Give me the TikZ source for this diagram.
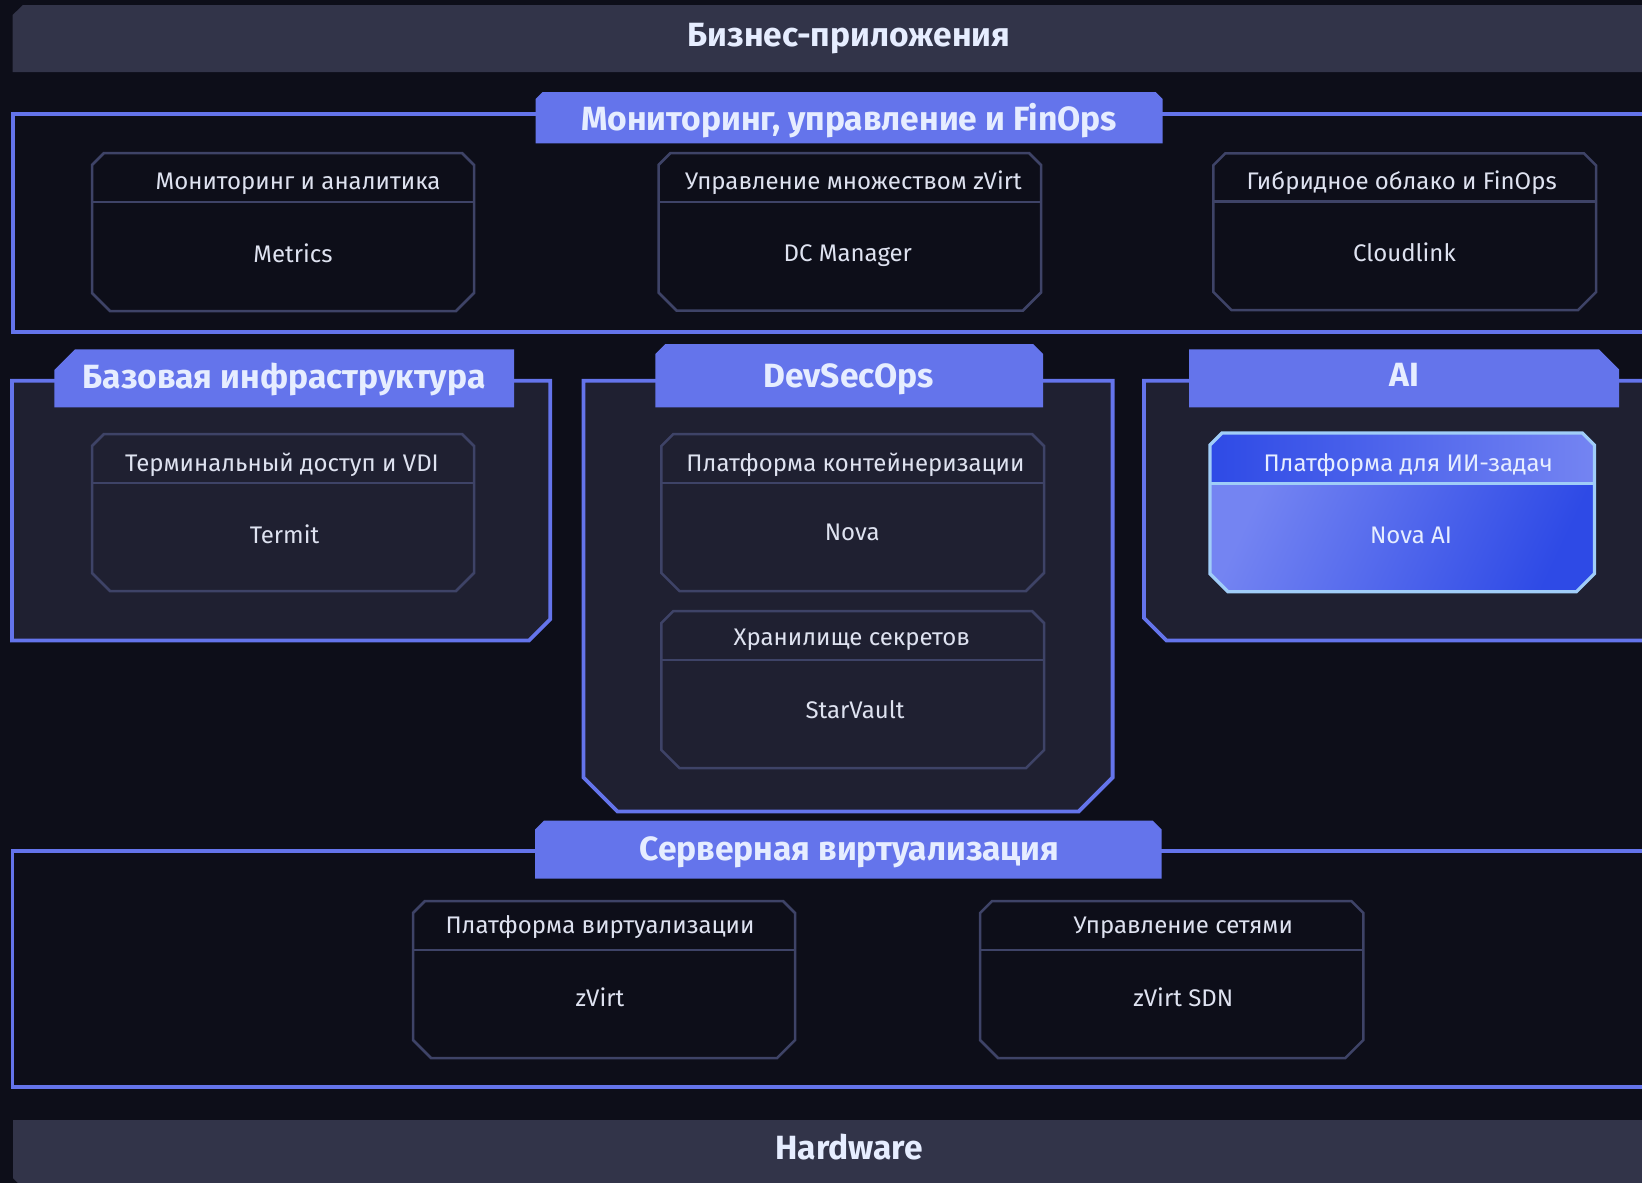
\documentclass[tikz,border=0pt]{standalone}
\usepackage{fontspec}
\setmainfont{Fira Sans}
\definecolor{bgc}{RGB}{13,14,25}
\definecolor{panelc}{RGB}{31,32,49}
\definecolor{barc}{RGB}{50,52,73}
\definecolor{accentc}{RGB}{100,116,235}
\definecolor{boxlinec}{RGB}{62,67,103}
\definecolor{txtc}{RGB}{222,226,240}
\definecolor{ttlc}{RGB}{230,237,255}
\definecolor{aiborderc}{RGB}{160,205,248}
\definecolor{aidarkc}{RGB}{46,74,230}
\definecolor{ailightc}{RGB}{116,132,242}
\tikzset{
  panelline/.style={draw=accentc, line width=3.8pt, line join=miter},
  tabfill/.style={fill=accentc},
  itemline/.style={draw=boxlinec, line width=2.5pt},
  hdr/.style={text=txtc, font=\fontsize{24}{28}\selectfont, inner sep=0pt, anchor=base},
  bodytxt/.style={hdr},
  ttl/.style={text=ttlc, font=\bfseries\fontsize{33.6}{38}\selectfont, inner sep=0pt, anchor=base},
}
\newcommand\ibox[5]{%
  \draw[itemline] ({#1+12},#2) -- ({#3-12},#2) -- (#3,{#2+12}) -- (#3,{#4-18}) -- ({#3-18},#4) -- ({#1+18},#4) -- (#1,{#4-18}) -- (#1,{#2+12}) -- cycle;
  \draw[itemline] (#1,#5) -- (#3,#5);}
\begin{document}
\begin{tikzpicture}[x=1pt,y=-1pt]
\useasboundingbox (0,0) rectangle (1642,1183);
\clip (0,0) rectangle (1642,1183);
\fill[bgc] (0,0) rectangle (1642,1183);

% top bar
\fill[barc] (12.6,15) -- (23,5) -- (1660,5) -- (1660,72) -- (12.6,72) -- cycle;
\node[ttl] (biz) at (849,46) {Бизнес-приложения};

% monitoring panel
\draw[panelline] (1660,114.3) -- (13,114.3) -- (13,332) -- (1660,332);
\fill[tabfill] (535.7,143.3) -- (535.7,99) -- (542.7,92) -- (1155.5,92) -- (1162.5,99) -- (1162.5,143.3) -- cycle;
\node[ttl] (mon) at (849,130) {Мониторинг, управление и FinOps};

\ibox{92}{153}{474}{311}{202}
\node[hdr] (metricsh) at (298,189.3) {Мониторинг и аналитика};
\node[bodytxt] (metrics) at (293,262.7) {Metrics};
\ibox{658.5}{153}{1041}{310.5}{202}
\node[hdr] (dch) at (853.4,189.3) {Управление множеством zVirt};
\node[bodytxt] (dc) at (847.8,261.7) {DC Manager};
\ibox{1213.3}{153.3}{1596}{310}{201.7}
\node[hdr] (clh) at (1401.7,189.3) {Гибридное облако и FinOps};
\node[bodytxt] (cl) at (1404.5,261.7) {Cloudlink};

% base infra panel
\filldraw[panelline, fill=panelc] (12,380.8) -- (550.2,380.8) -- (550.2,619.3) -- (529,640.5) -- (12,640.5) -- cycle;
\fill[tabfill] (54.3,407.3) -- (54.3,370) -- (75,349.3) -- (514,349.3) -- (514,407.3) -- cycle;
\node[ttl] (base) at (284,388.3) {Базовая инфраструктура};
\ibox{92}{434}{474}{591}{483}
\node[hdr] (termh) at (282,471.7) {Терминальный доступ и VDI};
\node[bodytxt] (termit) at (284.5,543.3) {Termit};

% devsecops panel
\filldraw[panelline, fill=panelc] (583.5,380.8) -- (1112.6,380.8) -- (1112.6,777.5) -- (1078.6,811.5) -- (617.5,811.5) -- (583.5,777.5) -- cycle;
\fill[tabfill] (655.4,407.3) -- (655.4,354) -- (665.4,344) -- (1033,344) -- (1043,354) -- (1043,407.3) -- cycle;
\node[ttl] (dso) at (848.8,387.3) {DevSecOps};
\ibox{661.3}{434}{1044}{591}{483}
\node[hdr] (novah) at (855.5,471.7) {Платформа контейнеризации};
\node[bodytxt] (nova) at (852.2,540) {Nova};
\ibox{661.3}{611}{1044}{768}{660}
\node[hdr] (svh) at (851.8,645) {Хранилище секретов};
\node[bodytxt] (sv) at (855,718.3) {StarVault};

% AI panel
\filldraw[panelline, fill=panelc] (1660,380.8) -- (1144,380.8) -- (1144,618) -- (1166.5,640.5) -- (1660,640.5) -- cycle;
\fill[tabfill] (1189.2,407.3) -- (1189.2,349.3) -- (1599,349.3) -- (1619.2,369.5) -- (1619.2,407.3) -- cycle;
\node[ttl] (ai) at (1404.2,386.7) {AI};
\shade[left color=aidarkc, right color=ailightc] (1210,483.3) -- (1210,445) -- (1222,433) -- (1582.4,433) -- (1594.4,445) -- (1594.4,483.3) -- cycle;
\shade[left color=ailightc, right color=aidarkc, shading angle=65] (1210,483.3) -- (1594.4,483.3) -- (1594.4,573.7) -- (1576.4,591.7) -- (1228,591.7) -- (1210,573.7) -- cycle;
\draw[draw=aiborderc, line width=3.3pt] (1222,433) -- (1582.4,433) -- (1594.4,445) -- (1594.4,573.7) -- (1576.4,591.7) -- (1228,591.7) -- (1210,573.7) -- (1210,445) -- cycle;
\draw[draw=aiborderc, line width=3.3pt] (1210,483.3) -- (1594.4,483.3);
\node[hdr, text=ttlc] (aih) at (1408.2,471.7) {Платформа для ИИ-задач};
\node[bodytxt, text=ttlc] (novaai) at (1411,543.3) {Nova AI};

% server virtualization panel
\draw[panelline] (1660,850.7) -- (12.5,850.7) -- (12.5,1086.7) -- (1660,1086.7);
\fill[tabfill] (535,878.7) -- (535,829.7) -- (544,820.7) -- (1152.7,820.7) -- (1161.7,829.7) -- (1161.7,878.7) -- cycle;
\node[ttl] (srv) at (849.4,860) {Серверная виртуализация};
\ibox{413}{901}{795}{1058}{950}
\node[hdr] (zvh) at (600,933.3) {Платформа виртуализации};
\node[bodytxt] (zv) at (600,1006) {zVirt};
\ibox{980}{901}{1363.3}{1058}{950}
\node[hdr] (sdnh) at (1183.3,933.3) {Управление сетями};
\node[bodytxt] (sdn) at (1183.3,1006) {zVirt SDN};

% hardware bar
\fill[barc] (1660,1120) -- (13,1120) -- (13,1178) -- (18,1183) -- (1660,1183) -- cycle;
\node[ttl] (hw) at (849.2,1159.3) {Hardware};
\end{tikzpicture}
\end{document}
